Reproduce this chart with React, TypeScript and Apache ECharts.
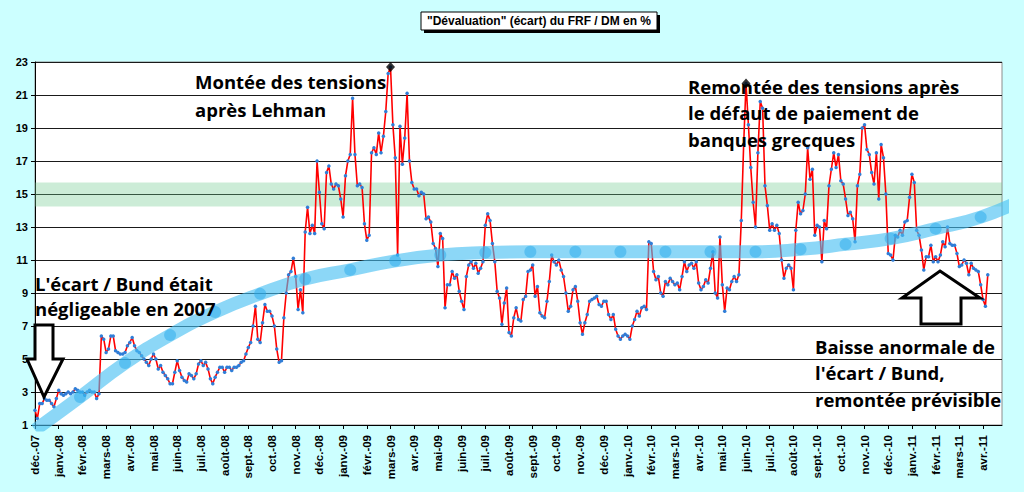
import React, { useEffect, useRef } from "react";
import * as echarts from "echarts";

const monthLabels = [
  "déc.-07", "janv.-08", "févr.-08", "mars-08", "avr.-08", "mai-08", "juin-08", "juil.-08", "août-08", "sept.-08",
  "oct.-08", "nov.-08", "déc.-08", "janv.-09", "févr.-09", "mars-09", "avr.-09", "mai-09", "juin-09", "juil.-09",
  "août-09", "sept.-09", "oct.-09", "nov.-09", "déc.-09", "janv.-10", "févr.-10", "mars-10", "avr.-10", "mai-10",
  "juin-10", "juil.-10", "août-10", "sept.-10", "oct.-10", "nov.-10", "déc.-10", "janv.-11", "févr.-11", "mars-11",
  "avr.-11",
];

// spread values, one every 0.1 month starting at 1 Dec 2007
const stepMonths = 0.1;
const spread = [
  1.9, 1.4, 2.3, 2.3, 2.6, 2.5, 2.5, 2.3, 2.1, 2.6,
  3.1, 2.9, 2.8, 2.9, 3.0, 2.9, 3.0, 3.2, 3.1, 3.0,
  3.0, 2.8, 3.0, 3.1, 3.0, 3.0, 2.6, 2.9, 6.4, 6.2,
  5.4, 5.6, 6.4, 6.4, 5.5, 5.4, 5.3, 5.3, 5.4, 5.8,
  6.0, 6.3, 5.8, 5.5, 5.4, 5.2, 5.0, 4.8, 4.6, 5.0,
  5.3, 5.0, 4.4, 4.6, 4.2, 4.0, 3.8, 3.5, 3.5, 4.2,
  4.9, 4.3, 3.9, 3.7, 3.6, 4.1, 4.0, 3.8, 4.1, 4.7,
  4.9, 4.6, 4.8, 4.4, 3.8, 3.5, 3.9, 4.2, 4.5, 4.5,
  4.2, 4.5, 4.5, 4.3, 4.5, 4.5, 4.6, 4.8, 4.9, 5.3,
  5.7, 6.0, 7.0, 8.2, 6.2, 6.0, 7.2, 8.3, 7.9, 7.9,
  7.6, 7.0, 5.6, 4.8, 4.9, 7.5, 9.0, 10.1, 10.3, 11.1,
  10.0, 8.0, 9.2, 7.8, 12.7, 14.2, 12.6, 13.1, 12.6, 17.0,
  15.1, 13.2, 12.9, 16.3, 16.7, 15.6, 15.3, 15.6, 15.5, 14.7,
  13.6, 16.1, 17.0, 17.4, 20.8, 17.4, 15.5, 15.6, 15.4, 13.2,
  12.2, 12.5, 17.5, 17.8, 17.4, 18.7, 17.5, 18.5, 20.0, 22.3,
  22.7, 19.2, 17.2, 11.3, 19.1, 16.8, 18.4, 21.1, 17.0, 15.7,
  15.3, 15.3, 14.9, 15.1, 15.0, 13.5, 13.6, 13.3, 12.0, 11.7,
  10.6, 12.6, 12.3, 8.1, 9.5, 9.5, 10.3, 9.9, 10.1, 9.1,
  8.5, 8.0, 10.0, 10.7, 10.9, 10.5, 10.8, 10.2, 10.5, 10.9,
  13.1, 13.8, 13.4, 12.0, 10.9, 9.1, 8.7, 7.1, 8.4, 9.3,
  6.6, 6.4, 7.5, 8.1, 7.4, 7.3, 8.6, 8.8, 10.3, 10.4,
  10.7, 8.8, 9.4, 7.8, 7.6, 7.5, 8.5, 9.7, 11.3, 10.9,
  10.7, 11.0, 10.4, 10.0, 9.0, 7.9, 8.2, 9.2, 9.4, 8.5,
  7.2, 6.5, 7.2, 7.7, 8.5, 8.6, 8.7, 8.8, 8.3, 8.2,
  8.5, 8.5, 7.7, 7.4, 7.7, 6.8, 6.4, 6.2, 6.4, 6.5,
  6.4, 6.2, 7.0, 7.4, 7.9, 7.6, 8.1, 8.2, 8.0, 12.1,
  12.0, 10.3, 9.8, 10.0, 9.0, 8.8, 9.7, 9.5, 9.9, 9.7,
  9.5, 9.6, 9.2, 10.0, 10.9, 10.3, 10.7, 10.8, 10.5, 10.9,
  9.6, 9.2, 9.4, 9.8, 9.6, 10.5, 11.5, 9.0, 8.7, 12.4,
  9.5, 7.9, 9.3, 9.2, 9.7, 10.0, 9.7, 10.1, 13.4, 18.0,
  21.7, 19.2, 16.6, 14.5, 13.0, 17.5, 20.6, 20.2, 15.5, 14.3,
  12.8, 13.2, 12.8, 13.1, 12.6, 11.0, 9.9, 10.5, 10.7, 10.5,
  9.2, 12.8, 14.5, 13.8, 14.0, 15.0, 17.8, 15.9, 16.5, 12.5,
  13.1, 13.0, 10.9, 13.4, 12.9, 15.5, 16.5, 17.5, 16.6, 17.4,
  15.8, 15.6, 14.7, 13.7, 13.9, 13.5, 12.1, 15.5, 16.2, 19.0,
  19.2, 17.7, 17.4, 16.3, 15.6, 17.5, 14.7, 18.0, 17.2, 15.0,
  11.4, 11.3, 11.0, 12.5, 12.4, 12.8, 12.5, 13.3, 13.4, 14.8,
  16.2, 15.7, 12.8, 12.5, 11.6, 10.4, 11.2, 11.2, 11.9, 10.9,
  11.2, 10.9, 11.3, 12.1, 11.8, 13.0, 12.0, 11.9, 11.9, 11.4,
  10.6, 10.7, 11.0, 10.8, 10.1, 10.8, 10.5, 10.4, 10.3, 9.5,
  8.6, 8.2, 10.1,
];

// smoothed trend band, one point every 1.9 months
const trendStep = 1.9;
const trend = [
  0.7, 2.7, 4.75, 6.45, 7.85, 8.95, 9.85, 10.4, 10.95, 11.3, 11.45,
  11.5, 11.5, 11.5, 11.5, 11.5, 11.5, 11.65, 11.95, 12.3, 12.9, 13.6, 14.75,
];

const peakIndices = [150, 300];
const greenBand = [14.25, 15.7];
const yMin = 1;
const yMax = 23;
const yInterval = 2;
const xMaxMonths = 40.8;

const titleText = '"Dévaluation" (écart) du FRF / DM en %';
const noteLehman = "Montée des tensions\naprès Lehman";
const noteGreece = "Remontée des tensions après\nle défaut de paiement de\nbanques grecques";
const note2007 = "L'écart / Bund était\nnégligeable en 2007";
const noteBaisse = "Baisse anormale de\nl'écart / Bund,\nremontée prévisible";

export default function App() {
  const ref = useRef<HTMLDivElement | null>(null);

  useEffect(() => {
    if (!ref.current) return;
    const chart = echarts.init(ref.current, undefined, { renderer: "svg" });
    const spreadData = spread.map((v, i) => [Number((i * stepMonths).toFixed(2)), v]);
    const trendData = trend.map((v, i) => [Number((i * trendStep).toFixed(2)), v]);
    const peakData = peakIndices.map((i) => spreadData[i]);
    const annoFont = "bold 18.5px 'Open Sans'";

    chart.setOption({
      animation: false,
      backgroundColor: "#CCFFFF",
      grid: {
        left: 35,
        right: 22,
        top: 62,
        bottom: 67,
        show: true,
        backgroundColor: "#ffffff",
        borderColor: "#8c8c8c",
        borderWidth: 1,
        containLabel: false,
        outerBoundsMode: "none",
      },
      xAxis: {
        type: "value",
        min: 0,
        max: xMaxMonths,
        interval: 1,
        axisLine: { show: true, onZero: false, lineStyle: { color: "#000", width: 1 } },
        axisTick: { show: true, length: 4, lineStyle: { color: "#000" } },
        splitLine: { show: false },
        axisLabel: {
          rotate: 90,
          margin: 10,
          color: "#000",
          fontSize: 11.5,
          fontWeight: "bold",
          fontFamily: "Liberation Sans, Arial, sans-serif",
          showMaxLabel: false,
          formatter: (v: number) => {
            const r = Math.round(v);
            return Math.abs(v - r) < 1e-6 && monthLabels[r] ? monthLabels[r] : "";
          },
        },
      },
      yAxis: {
        type: "value",
        min: yMin,
        max: yMax,
        interval: yInterval,
        axisLine: { show: true, lineStyle: { color: "#000", width: 1 } },
        axisTick: { show: true, length: 4, lineStyle: { color: "#000" } },
        splitLine: { show: true, lineStyle: { color: "#1a1a1a", width: 1 } },
        axisLabel: {
          margin: 7,
          color: "#000",
          fontSize: 11,
          fontWeight: "bold",
          fontFamily: "Liberation Sans, Arial, sans-serif",
        },
      },
      series: [
        {
          type: "line",
          data: spreadData,
          z: 2,
          symbol: "circle",
          symbolSize: 3.5,
          showSymbol: true,
          itemStyle: { color: "#2f7ed8" },
          lineStyle: { color: "#ff0000", width: 1.6 },
          markArea: {
            silent: true,
            itemStyle: { color: "rgba(110,200,140,0.35)" },
            data: [[{ yAxis: greenBand[0] }, { yAxis: greenBand[1] }]],
          },
        },
        {
          type: "line",
          data: trendData,
          z: 3,
          smooth: true,
          symbol: "circle",
          symbolSize: 12,
          itemStyle: { color: "rgba(40,170,235,0.5)" },
          lineStyle: { color: "rgba(70,190,242,0.62)", width: 13 },
        },
        {
          type: "scatter",
          data: peakData,
          z: 5,
          symbol: "diamond",
          symbolSize: [9, 10],
          itemStyle: { color: "#000" },
        },
      ],
      graphic: [
        {
          type: "rect",
          shape: { x: 424, y: 15, width: 236, height: 18 },
          style: { fill: "#000" },
          z: 10,
        },
        {
          type: "rect",
          shape: { x: 421, y: 12, width: 236, height: 18 },
          style: { fill: "#fff", stroke: "#000", lineWidth: 1 },
          z: 11,
        },
        {
          type: "text",
          x: 539,
          y: 21,
          z: 12,
          style: {
            text: titleText,
            font: "bold 12px Liberation Sans",
            fill: "#000",
            align: "center",
            verticalAlign: "middle",
          },
        },
        {
          type: "polygon",
          z: 20,
          shape: {
            points: [[35, 325], [53, 325], [53, 359], [63, 359], [44, 397], [27, 359], [35, 359]],
          },
          style: { fill: "#fff", stroke: "#000", lineWidth: 3 },
        },
        {
          type: "polygon",
          z: 20,
          shape: {
            points: [[940, 271], [980, 298], [961, 298], [961, 324], [921, 324], [921, 298], [902, 298]],
          },
          style: { fill: "#fff", stroke: "#000", lineWidth: 3 },
        },
        {
          type: "text",
          x: 195,
          y: 67,
          z: 30,
          style: { text: noteLehman, font: annoFont, fill: "#000", lineHeight: 28, verticalAlign: "top" },
        },
        {
          type: "text",
          x: 688,
          y: 73,
          z: 30,
          style: { text: noteGreece, font: annoFont, fill: "#000", lineHeight: 26.5, verticalAlign: "top" },
        },
        {
          type: "text",
          x: 35,
          y: 271,
          z: 30,
          style: { text: note2007, font: annoFont, fill: "#000", lineHeight: 25, verticalAlign: "top" },
        },
        {
          type: "text",
          x: 815,
          y: 333,
          z: 30,
          style: { text: noteBaisse, font: annoFont, fill: "#000", lineHeight: 26.5, verticalAlign: "top" },
        },
      ],
    });

    return () => chart.dispose();
  }, []);

  return (
    <div
      ref={ref}
      style={{ position: "fixed", left: 0, top: 0, width: 1024, height: 492 }}
    />
  );
}
